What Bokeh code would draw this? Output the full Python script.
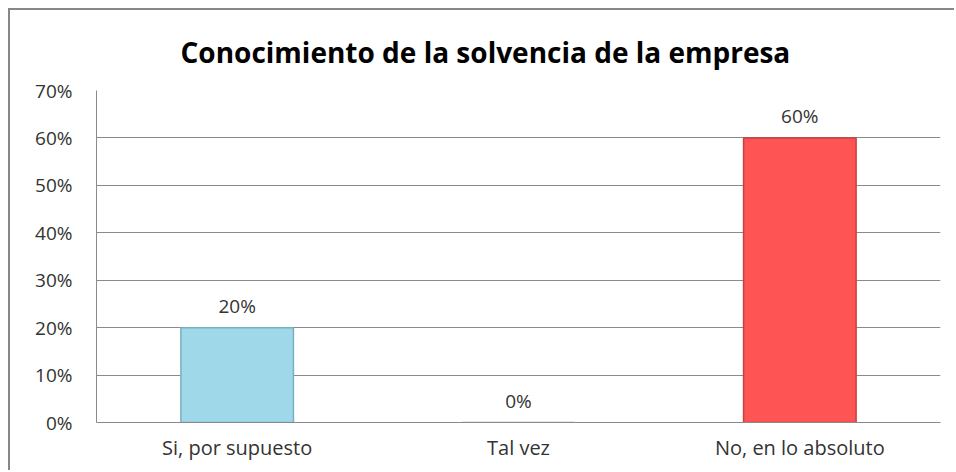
from bokeh.plotting import figure
from bokeh.models import ColumnDataSource, NumeralTickFormatter, FactorRange, Range1d, LabelSet
from bokeh.core.properties import value
from bokeh.embed import file_html
from bokeh.resources import INLINE

categories = ["Si, por supuesto", "Tal vez", "No, en lo absoluto"]
values = [0.20, 0.00, 0.60]
labels = ["20%", "0%", "60%"]
fills = ["#9FD8E8", "#9FD8E8", "#FF5454"]
edges = ["#7AAFBF", "#7AAFBF", "#C94040"]
yticks = [0, 0.1, 0.2, 0.3, 0.4, 0.5, 0.6, 0.7]

src = ColumnDataSource(dict(cat=categories, val=values, lab=labels, fill=fills, edge=edges))

p = figure(x_range=FactorRange(*categories, range_padding=0), y_range=Range1d(0, 0.7),
           width=946, height=462, output_backend="svg", toolbar_location=None,
           min_border_left=86, min_border_right=16, min_border_top=79, min_border_bottom=50)
p.styles = {"border-left": "2px solid #878787", "border-top": "2px solid #878787",
            "margin-left": "8px", "margin-top": "8px"}

p.title.text = "Conocimiento de la solvencia  de la empresa"
p.title.align = "left"
p.title.offset = 84
p.title.text_font = "Open Sans"
p.title.text_font_size = "28px"
p.title.text_font_style = "bold"
p.title.text_color = "#000000"
p.title.standoff = 40

p.vbar(x="cat", top="val", width=0.4, source=src, fill_color="fill", line_color="edge", line_width=1.5)

p.add_layout(LabelSet(x="cat", y="val", text="lab", source=src, text_align="center",
                      text_baseline="bottom", y_offset=9, text_font=value("Open Sans"),
                      text_font_size=value("19px"), text_color="#333333"))

p.outline_line_color = None
p.xgrid.grid_line_color = None
p.ygrid.grid_line_color = "#8A8A8A"
p.ygrid.grid_line_width = 1

p.yaxis.ticker = yticks
p.yaxis.formatter = NumeralTickFormatter(format="0%")
p.yaxis.axis_line_color = "#8A8A8A"
p.yaxis.major_tick_in = 0
p.yaxis.major_tick_out = 0
p.yaxis.minor_tick_line_color = None
p.yaxis.major_label_standoff = 24
p.yaxis.major_label_text_font = "Open Sans"
p.yaxis.major_label_text_font_size = "19px"
p.yaxis.major_label_text_color = "#333333"

p.xaxis.axis_line_color = "#8A8A8A"
p.xaxis.major_tick_line_color = None
p.xaxis.major_label_standoff = 5
p.xaxis.major_label_text_font = "Open Sans"
p.xaxis.major_label_text_font_size = "20px"
p.xaxis.major_label_text_color = "#333333"

p.background_fill_color = "white"
p.border_fill_color = "white"

open("out.html", "w").write(file_html(p, INLINE))
